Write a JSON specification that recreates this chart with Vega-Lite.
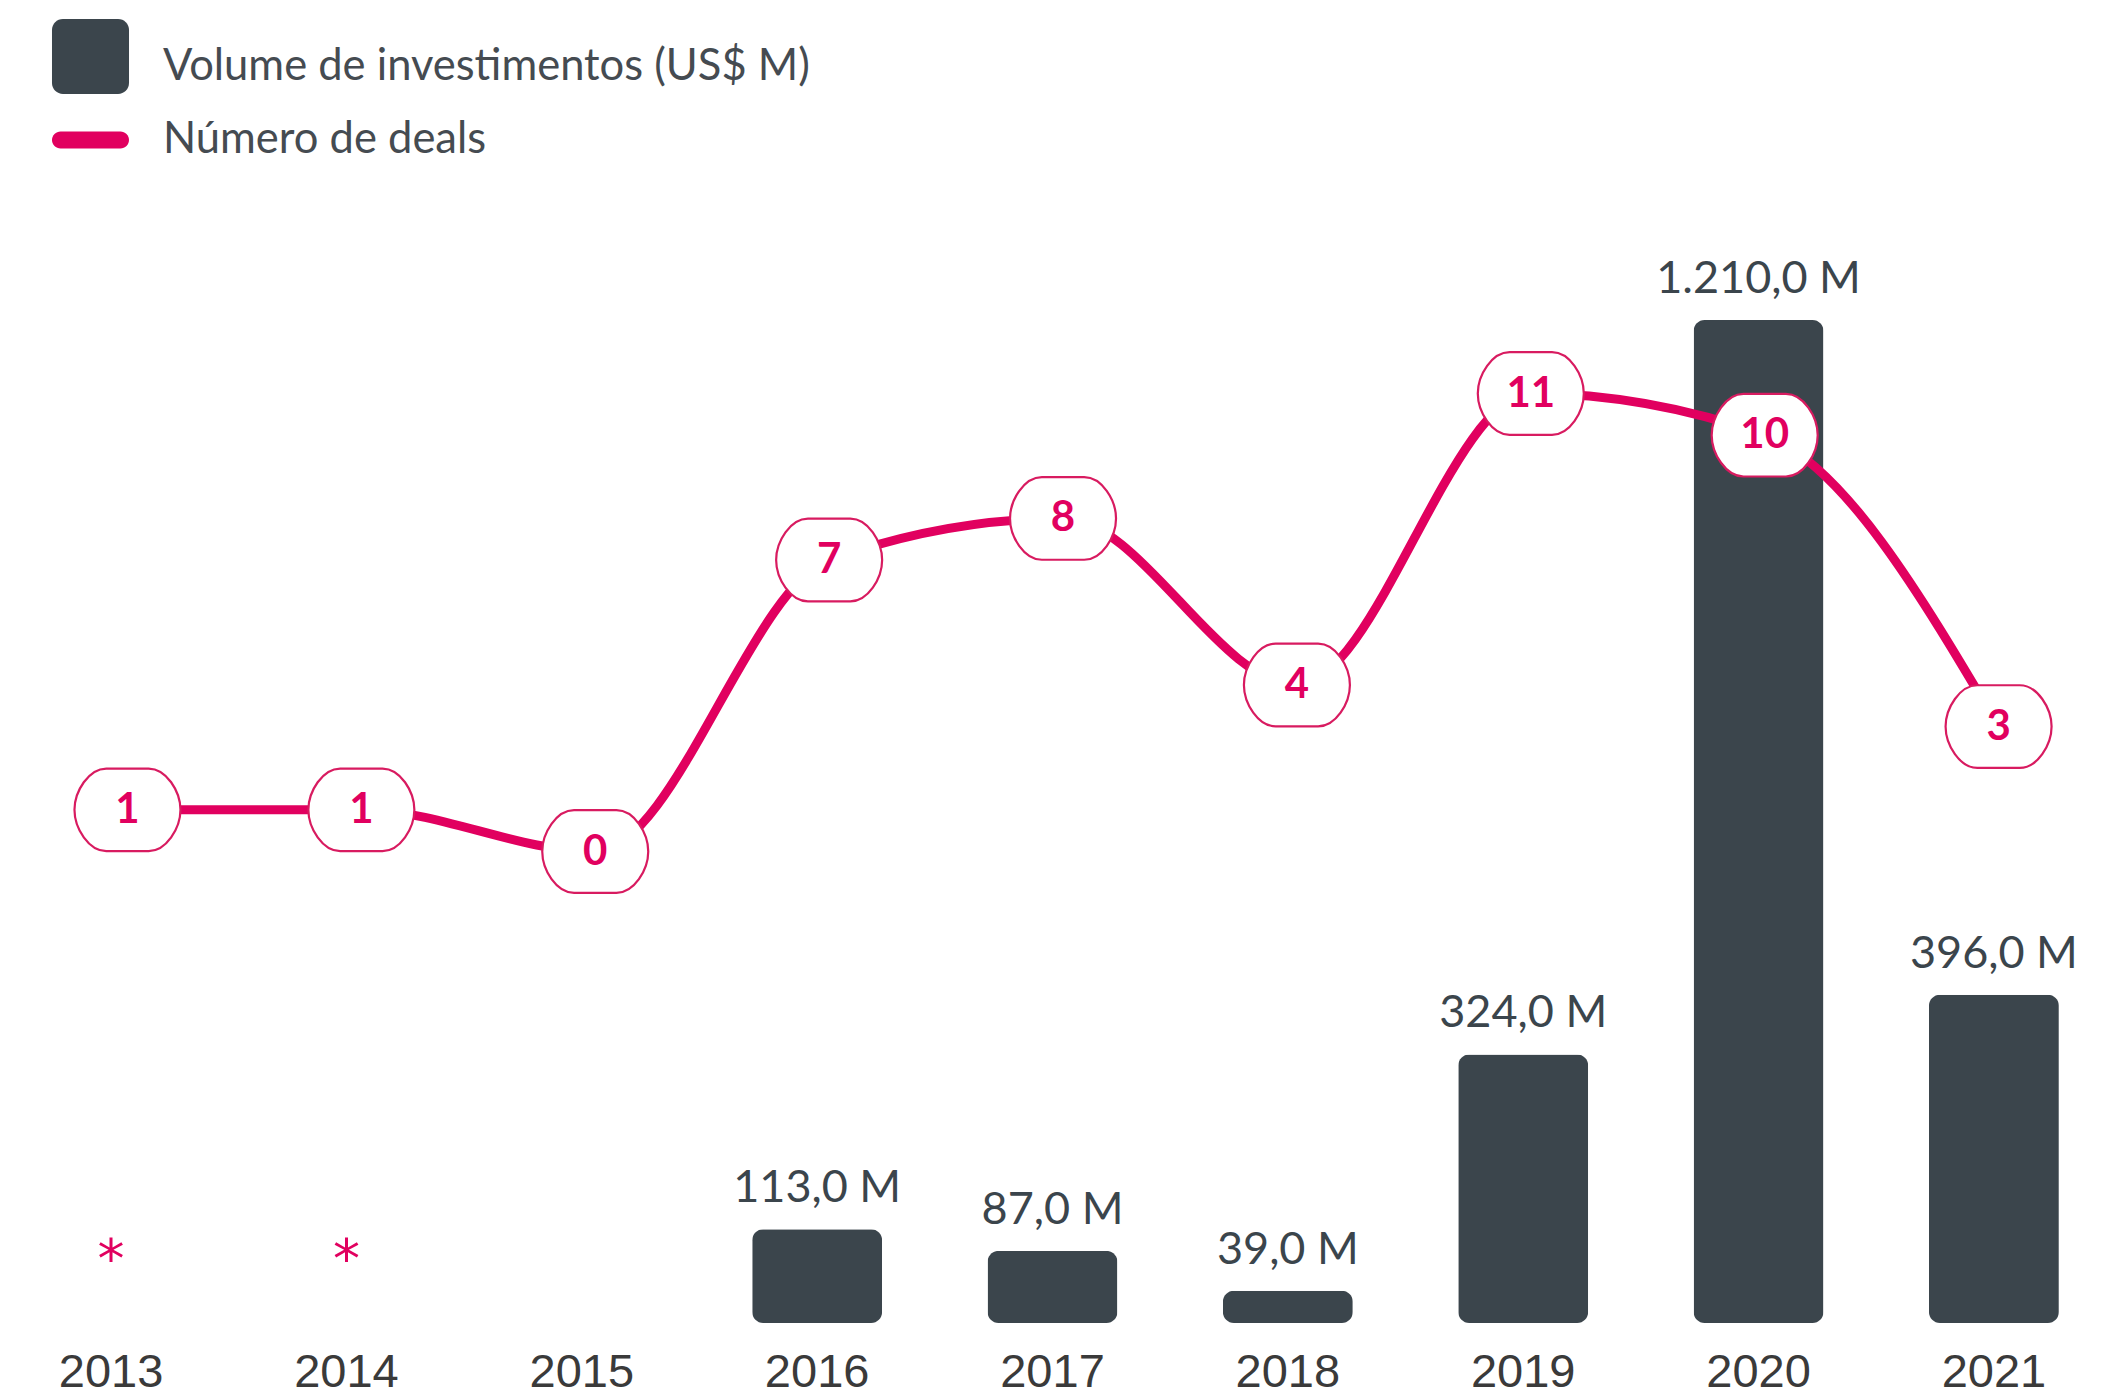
{
  "$schema": "https://vega.github.io/schema/vega-lite/v6.json",
  "width": 2105,
  "height": 1323,
  "padding": 0,
  "background": "white",
  "config": {
    "view": {"stroke": null},
    "locale": {"number": {"decimal": ",", "thousands": ".", "grouping": [3], "currency": ["", " M"]}}
  },
  "data": {
    "values": [
      {"ano": 2013, "volume": null, "deals": 1, "nota": "*"},
      {"ano": 2014, "volume": null, "deals": 1, "nota": "*"},
      {"ano": 2015, "volume": null, "deals": 0, "nota": null},
      {"ano": 2016, "volume": 113, "deals": 7, "nota": null},
      {"ano": 2017, "volume": 87, "deals": 8, "nota": null},
      {"ano": 2018, "volume": 39, "deals": 4, "nota": null},
      {"ano": 2019, "volume": 324, "deals": 11, "nota": null},
      {"ano": 2020, "volume": 1210, "deals": 10, "nota": null},
      {"ano": 2021, "volume": 396, "deals": 3, "nota": null}
    ]
  },
  "layer": [
    {
      "encoding": {
        "x": {
          "field": "ano", "type": "ordinal",
          "scale": {"domain": [2013, 2014, 2015, 2016, 2017, 2018, 2019, 2020, 2021], "paddingInner": 0.448, "paddingOuter": 0.196},
          "axis": {"title": null, "domain": false, "ticks": false, "tickSize": 0, "labelAngle": 0, "labelPadding": 26, "labelFont": "Liberation Sans", "labelFontSize": 47, "labelColor": "#3a3a3a"}
        }
      },
      "layer": [
        {
          "transform": [{"filter": "datum.volume != null"}],
          "mark": {"type": "bar", "cornerRadius": 11},
          "encoding": {
            "y": {"field": "volume", "type": "quantitative", "scale": {"domain": [0, 1596.1], "nice": false, "zero": true}, "axis": null},
            "color": {
              "datum": "Volume de investimentos (US$ M)",
              "scale": {"domain": ["Volume de investimentos (US$ M)", "Número de deals"], "range": ["#3b454c", "#e1005f"]},
              "legend": {
                "orient": "none", "legendX": 54, "legendY": 30.5, "title": null, "direction": "vertical",
                "symbolSize": 5329, "symbolStrokeWidth": 0, "padding": 0, "rowPadding": 9,
                "labelFont": "Lato", "labelFontSize": 43.5, "labelColor": "#454b51", "labelOffset": 36, "labelLimit": 0,
                "encode": {
                  "symbols": {
                    "update": {
                      "shape": {"signal": "datum.value === 'Número de deals' ? 'M-0.82,-0.233L0.82,-0.233C0.949,-0.233,1.055,-0.129,1.055,0C1.055,0.129,0.949,0.233,0.82,0.233L-0.82,0.233C-0.949,0.233,-1.055,0.129,-1.055,0C-1.055,-0.129,-0.949,-0.233,-0.82,-0.233Z' : 'M-0.755,-1.314L0.755,-1.314C0.921,-1.314,1.055,-1.18,1.055,-1.014L1.055,0.44C1.055,0.606,0.921,0.74,0.755,0.74L-0.755,0.74C-0.921,0.74,-1.055,0.606,-1.055,0.44L-1.055,-1.014C-1.055,-1.18,-0.921,-1.314,-0.755,-1.314Z'"},
                      "fill": {"signal": "datum.value === 'Número de deals' ? '#e1005f' : '#3b454c'"},
                      "opacity": {"value": 1},
                      "fillOpacity": {"value": 1}
                    }
                  }
                }
              }
            }
          }
        },
        {
          "transform": [{"filter": "datum.volume != null"}],
          "mark": {"type": "text", "font": "Lato", "fontSize": 45, "color": "#3b454c", "baseline": "alphabetic", "dy": -27},
          "encoding": {
            "y": {"field": "volume", "type": "quantitative"},
            "text": {"field": "volume", "type": "quantitative", "format": "$,.1f"}
          }
        },
        {
          "transform": [{"filter": "datum.nota != null"}],
          "mark": {"type": "text", "font": "DejaVu Sans", "fontSize": 54, "color": "#e1005f", "baseline": "alphabetic", "dy": -46},
          "encoding": {
            "y": {"datum": 0, "type": "quantitative"},
            "text": {"field": "nota", "type": "nominal"}
          }
        }
      ]
    },
    {
      "encoding": {
        "x": {"field": "ano", "type": "ordinal", "scale": {"type": "point", "padding": 0.5, "align": 0.545}, "axis": null},
        "y": {"field": "deals", "type": "quantitative", "scale": {"domain": [-11.324, 20.451], "nice": false, "zero": false}, "axis": null}
      },
      "layer": [
        {"mark": {"type": "line", "interpolate": "monotone", "color": "#e1005f", "strokeWidth": 9}},
        {"mark": {"type": "point", "shape": "M-0.4,-0.78L0.4,-0.78C0.731,-0.78,1,-0.349,1,0C1,0.349,0.731,0.78,0.4,0.78L-0.4,0.78C-0.731,0.78,-1,0.349,-1,0C-1,-0.349,-0.731,-0.78,-0.4,-0.78Z", "size": 11236, "filled": true, "fill": "white", "stroke": "#d81b60", "strokeWidth": 2.2, "opacity": 1}},
        {"mark": {"type": "text", "font": "Lato", "fontWeight": "bold", "fontSize": 42, "color": "#e1005f", "baseline": "middle"}, "encoding": {"text": {"field": "deals", "type": "quantitative"}}}
      ]
    }
  ],
  "resolve": {"scale": {"x": "independent", "y": "independent"}}
}
